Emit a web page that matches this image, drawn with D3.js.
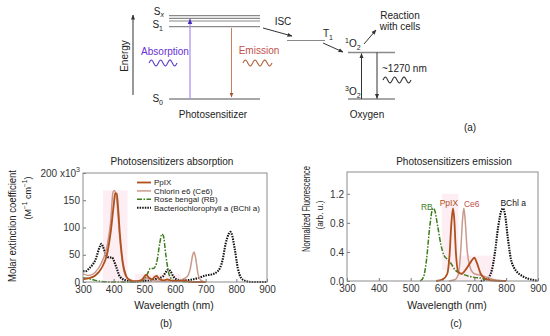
<!DOCTYPE html>
<html>
<head>
<meta charset="utf-8">
<script src="https://cdn.jsdelivr.net/npm/d3@7"></script>
<style>
  body { margin: 0; background: #fff; }
  svg { font-family: "Liberation Sans", Arial, sans-serif; }
  .tick text { font-size: 10px; fill: #333; }
</style>
</head>
<body>
<svg id="fig" width="550" height="336"></svg>
<script>
// ---- data (wavelength nm, value) ----
const absPpIX = [[300,5],[320,7],[340,12],[360,25],[380,55],[390,90],[400,140],[405,163],[410,162],[415,132],[420,90],[430,35],[440,12],[450,4],[470,1],[490,3],[500,10],[505,13],[515,8],[525,5],[535,10],[540,11],[550,5],[565,3],[575,5],[585,3],[600,2],[620,2],[630,3],[640,1],[660,0],[700,0]];
const absCe6 = [[300,15],[320,12],[340,18],[360,35],[380,70],[390,110],[398,165],[403,168],[410,150],[420,80],[430,30],[440,10],[460,3],[480,2],[500,6],[510,7],[520,4],[540,2],[600,2],[620,4],[640,10],[650,25],[658,50],[662,55],[667,45],[675,15],[685,3],[700,0]];
const absRB = [[300,8],[320,6],[340,3],[360,1],[400,0],[460,0],[480,1],[500,5],[510,15],[520,25],[530,25],[540,35],[550,70],[557,88],[562,85],[570,50],[580,15],[590,5],[600,2],[620,1],[650,0],[700,0]];
const absBChl = [[300,20],[310,20],[320,25],[340,40],[355,65],[360,70],[365,65],[375,50],[385,45],[395,45],[400,40],[410,25],[420,10],[440,3],[460,1],[480,1],[500,2],[520,3],[540,6],[560,10],[570,18],[578,23],[585,20],[595,10],[610,4],[630,3],[650,4],[680,8],[700,12],[720,14],[740,20],[755,40],[765,70],[775,88],[780,92],[785,88],[795,60],[805,25],[815,8],[830,2],[850,0],[900,0]];

const emRB = [[530,0],[540,0.05],[550,0.3],[560,0.75],[570,1.0],[575,0.98],[585,0.75],[595,0.5],[605,0.35],[615,0.3],[625,0.25],[640,0.15],[660,0.1],[680,0.07],[700,0.05],[720,0.04],[740,0.02],[760,0.01],[780,0]];
const emPpIX = [[580,0],[600,0.02],[615,0.1],[622,0.35],[628,0.8],[633,1.0],[637,0.85],[642,0.4],[650,0.12],[660,0.1],[675,0.17],[690,0.27],[700,0.32],[708,0.25],[720,0.1],[735,0.03],[750,0.01],[800,0]];
const emCe6 = [[620,0],[640,0.02],[650,0.1],[657,0.4],[663,0.85],[667,1.0],[671,0.85],[678,0.4],[690,0.15],[700,0.1],[720,0.08],[740,0.05],[760,0.02],[800,0]];
const emBChl = [[720,0],[740,0.03],[755,0.15],[765,0.4],[775,0.75],[785,0.97],[790,1.0],[797,0.9],[805,0.6],[815,0.3],[825,0.18],[835,0.12],[850,0.07],[870,0.03],[890,0.01],[900,0]];

const xTicks = [300,400,500,600,700,800,900];
const absTicks = [0,50,100,150,200];
const emTicks = [0,0.4,0.8,1.2];
const legendNames = ["PpIX","Chlorin e6 (Ce6)","Rose bengal (RB)","Bacteriochlorophyll a (BChl a)"];
// label, wavelength, height
const emLabels = [["RB",551,0.98],["PpIX",620,1.03],["Ce6",692,1.02],["BChl a",822,1.03]];

const styles = {
  PpIX: { color: "#b0501c", width: 1.8, dash: null },
  Ce6:  { color: "#c99a8c", width: 1.5, dash: null },
  RB:   { color: "#3c7d1c", width: 1.5, dash: "5,1.5,1.5,1.5" },
  BChl: { color: "#111", width: 2.1, dash: "1.5,1.1" }
};

const svg = d3.select("#fig");

// ================= (a) diagram =================
const dg = svg.append("g");
const gray = "#8a8a8a";
const defs = svg.append("defs");
function marker(id, color) {
  defs.append("marker").attr("id", id).attr("viewBox", "0 0 10 10")
    .attr("refX", 9).attr("refY", 5).attr("markerWidth", 5).attr("markerHeight", 5)
    .attr("orient", "auto")
    .append("path").attr("d", "M0,1 L10,5 L0,9 z").attr("fill", color);
}
marker("ar", "#333");
marker("arP", "#4a2cc0");
marker("arB", "#a0522d");

function hline(x1, x2, y, w) {
  dg.append("line").attr("x1", x1).attr("x2", x2).attr("y1", y).attr("y2", y)
    .attr("stroke", gray).attr("stroke-width", w || 1.3);
}
function arrow(x1, y1, x2, y2, color, m, w) {
  dg.append("line").attr("x1", x1).attr("y1", y1).attr("x2", x2).attr("y2", y2)
    .attr("stroke", color).attr("stroke-width", w || 1).attr("marker-end", `url(#${m})`);
}
function sub(x, y, main, s, anchor, size) {
  const t = dg.append("text").attr("x", x).attr("y", y).attr("font-size", size || 10)
    .attr("text-anchor", anchor || "start").attr("fill", "#222");
  t.append("tspan").text(main);
  t.append("tspan").attr("font-size", 7).attr("dy", 3).text(s);
  return t;
}
function wave(x0, x1, y, color) {
  const pts = d3.range(0, 1.0001, 0.02).map(t => [x0 + t * (x1 - x0), y - 3 * Math.sin(t * Math.PI * 2 * 3)]);
  dg.append("path").attr("d", d3.line().curve(d3.curveBasis)(pts))
    .attr("fill", "none").attr("stroke", color).attr("stroke-width", 1.1);
}

// energy axis
arrow(133, 95, 133, 15, "#333", "ar", 1);
dg.append("text").attr("transform", "translate(128,56) rotate(-90)")
  .attr("text-anchor", "middle").attr("font-size", 10).attr("fill", "#222").text("Energy");

// levels
hline(169, 260, 15.7, 1.2);
hline(169, 260, 18.3, 1.2);
hline(169, 260, 21, 1.2);
hline(169, 260, 26.7, 1.3);
hline(169, 260, 99, 1.5);
const sx = dg.append("text").attr("x", 164).attr("y", 15).attr("text-anchor", "end").attr("font-size", 10).attr("fill", "#222");
sx.append("tspan").text("S");
sx.append("tspan").attr("font-size", 7).attr("dy", 2).attr("font-style", "italic").text("x");
sub(163, 28, "S", "1", "end");
sub(163, 102, "S", "0", "end");

// absorption / emission
dg.append("line").attr("x1", 190).attr("x2", 190).attr("y1", 99).attr("y2", 19)
  .attr("stroke", "#a68ef0").attr("stroke-width", 1.2).attr("marker-end", "url(#arP)");
dg.append("text").attr("x", 165).attr("y", 55).attr("text-anchor", "middle")
  .attr("font-size", 10).attr("fill", "#6a2fd0").text("Absorption");
wave(149, 177, 63, "#5a3cc8");

dg.append("line").attr("x1", 231.5).attr("x2", 231.5).attr("y1", 28).attr("y2", 97)
  .attr("stroke", "#c48060").attr("stroke-width", 1).attr("marker-end", "url(#arB)");
dg.append("text").attr("x", 259).attr("y", 54).attr("text-anchor", "middle")
  .attr("font-size", 10).attr("fill", "#c0504d").text("Emission");
wave(243, 272, 63, "#b0603a");

dg.append("text").attr("x", 213).attr("y", 118).attr("text-anchor", "middle")
  .attr("font-size", 10).attr("fill", "#222").text("Photosensitizer");

// ISC & T1
arrow(263, 28, 292, 36, "#333", "ar", 1);
dg.append("text").attr("x", 283).attr("y", 25).attr("text-anchor", "middle")
  .attr("font-size", 10).attr("fill", "#222").text("ISC");
hline(287, 325, 40.5, 1.2);
sub(323, 37, "T", "1", "start");
arrow(323, 43, 343, 52, "#333", "ar", 1);

// oxygen
hline(348, 395, 52.5, 1.3);
hline(348, 395, 99, 1.5);
function supLabel(x, y, s, main, s2) {
  const t = dg.append("text").attr("x", x).attr("y", y).attr("font-size", 10).attr("fill", "#222");
  t.append("tspan").attr("font-size", 7).attr("dy", -4).text(s);
  t.append("tspan").attr("dy", 4).text(main);
  t.append("tspan").attr("font-size", 7).attr("dy", 3).text(s2);
}
supLabel(345, 47, "1", "O", "2");
supLabel(345, 95, "3", "O", "2");
arrow(361.5, 99, 361.5, 53.5, "#333", "ar", 1);
arrow(377, 52.5, 377, 98.5, "#333", "ar", 1);
dg.append("text").attr("x", 382).attr("y", 72).attr("font-size", 10).attr("fill", "#222").text("~1270 nm");
wave(383, 411, 80, "#333");
arrow(364, 44, 376, 30, "#333", "ar", 1);
dg.append("text").attr("x", 400).attr("y", 19).attr("text-anchor", "middle").attr("font-size", 10).attr("fill", "#222").text("Reaction");
dg.append("text").attr("x", 400).attr("y", 30).attr("text-anchor", "middle").attr("font-size", 10).attr("fill", "#222").text("with cells");
dg.append("text").attr("x", 367).attr("y", 118).attr("text-anchor", "middle").attr("font-size", 10).attr("fill", "#222").text("Oxygen");
dg.append("text").attr("x", 470).attr("y", 131).attr("text-anchor", "middle").attr("font-size", 10).attr("fill", "#222").text("(a)");

// ================= plots =================
function panel(opt) {
  const x = d3.scaleLinear().domain([300, 900]).range([opt.left, opt.right]);
  const y = d3.scaleLinear().domain(opt.ydom).range([opt.bottom, opt.top]);
  const g = svg.append("g");

  // faint highlight bands
  opt.bands.forEach(b => {
    g.append("rect").attr("x", x(b[0])).attr("width", x(b[1]) - x(b[0]))
      .attr("y", y(b[3])).attr("height", y(b[2]) - y(b[3]))
      .attr("fill", "#fdeef4");
  });

  const xa = g.append("g").attr("transform", `translate(0,${opt.bottom})`)
    .call(d3.axisBottom(x).tickValues(xTicks).tickSizeInner(-3).tickSizeOuter(0).tickPadding(4));
  const ya = g.append("g").attr("transform", `translate(${opt.left},0)`)
    .call(d3.axisLeft(y).tickValues(opt.yticks).tickSizeInner(-3).tickSizeOuter(0).tickPadding(3).tickFormat(opt.fmt));
  [xa, ya].forEach(a => {
    a.select(".domain").remove();
    a.selectAll(".tick line").attr("stroke", "#777");
  });

  const line = d3.line().x(d => x(d[0])).y(d => y(d[1])).curve(d3.curveMonotoneX);
  opt.series.forEach(([data, st]) => {
    g.append("path").datum(data).attr("d", line).attr("fill", "none")
      .attr("stroke", st.color).attr("stroke-width", st.width)
      .attr("stroke-dasharray", st.dash).attr("stroke-linejoin", "round");
  });

  g.append("rect").attr("x", opt.left).attr("y", opt.top)
    .attr("width", opt.right - opt.left).attr("height", opt.bottom - opt.top)
    .attr("fill", "none").attr("stroke", "#8c8c8c").attr("stroke-width", 1);

  g.append("text").attr("x", opt.titleX).attr("y", 165).attr("text-anchor", "middle")
    .attr("font-size", 10).attr("fill", "#222").text(opt.title);
  g.append("text").attr("x", opt.xlabX).attr("y", 309).attr("text-anchor", "middle")
    .attr("font-size", 10.5).attr("fill", "#222").text("Wavelength (nm)");
  g.append("text").attr("x", opt.tagX).attr("y", 327).attr("text-anchor", "middle")
    .attr("font-size", 10).attr("fill", "#222").text(opt.tag);
  return { g, x, y };
}

function vlabel(g, cx, cy, size, len, build) {
  const t = g.append("text").attr("transform", `translate(${cx},${cy}) rotate(-90)`)
    .attr("text-anchor", "middle").attr("font-size", size).attr("fill", "#222");
  build(t);
  if (len) t.attr("textLength", len).attr("lengthAdjust", "spacingAndGlyphs");
  return t;
}

// (b) absorption
const pb = panel({
  left: 83, right: 267, top: 173, bottom: 282, ydom: [0, 200],
  yticks: absTicks, fmt: d => d,
  title: "Photosensitizers absorption", titleX: 172, xlabX: 174, tagX: 166, tag: "(b)",
  bands: [[365, 445, 0, 168], [470, 620, 0, 15]],
  series: [[absBChl, styles.BChl], [absRB, styles.RB], [absCe6, styles.Ce6], [absPpIX, styles.PpIX]]
});
// x10^3 suffix on top tick
pb.g.selectAll("g.tick text").filter(d => d === 200).each(function () {
  const t = d3.select(this);
  t.text(null);
  t.append("tspan").text("200 x10");
  t.append("tspan").attr("font-size", 7).attr("dy", -5).text("3");
});
vlabel(pb.g, 16, 226, 10, 112, t => t.text("Molar extinction coefficient"));
vlabel(pb.g, 31, 198, 9, null, t => {
  t.append("tspan").text("(M");
  t.append("tspan").attr("font-size", 6.5).attr("dy", -4).text("−1");
  t.append("tspan").attr("dy", 4).text(" cm");
  t.append("tspan").attr("font-size", 6.5).attr("dy", -4).text("−1");
  t.append("tspan").attr("dy", 4).text(")");
});

// legend
const legStyles = [styles.PpIX, styles.Ce6, styles.RB, styles.BChl];
legendNames.forEach((n, i) => {
  const ly = 182.5 + i * 8.4;
  pb.g.append("line").attr("x1", 137).attr("x2", 151).attr("y1", ly).attr("y2", ly)
    .attr("stroke", legStyles[i].color).attr("stroke-width", legStyles[i].width)
    .attr("stroke-dasharray", legStyles[i].dash);
  pb.g.append("text").attr("x", 154).attr("y", ly + 2.8).attr("font-size", 8)
    .attr("fill", "#222").text(n);
});

// (c) emission
const pc = panel({
  left: 347, right: 538, top: 172, bottom: 281, ydom: [0, 1.5],
  yticks: emTicks, fmt: d3.format(".1f"),
  title: "Photosensitizers emission", titleX: 454, xlabX: 447, tagX: 456, tag: "(c)",
  bands: [[598, 650, 0.15, 1.2], [650, 760, 0, 0.35]],
  series: [[emBChl, styles.BChl], [emRB, styles.RB], [emCe6, styles.Ce6], [emPpIX, styles.PpIX]]
});
vlabel(pc.g, 310, 209, 10, 86, t => t.text("Normalized Fluorescence"));
vlabel(pc.g, 323, 215, 9, 29, t => t.text("(arb. u.)"));
const emColors = ["#3c7d1c", "#b0501c", "#c0504d", "#111"];
emLabels.forEach(([t, wx, wy], i) => {
  pc.g.append("text").attr("x", pc.x(wx)).attr("y", pc.y(wy))
    .attr("text-anchor", "middle").attr("font-size", 8.5).attr("fill", emColors[i]).text(t);
});
</script>
</body>
</html>
